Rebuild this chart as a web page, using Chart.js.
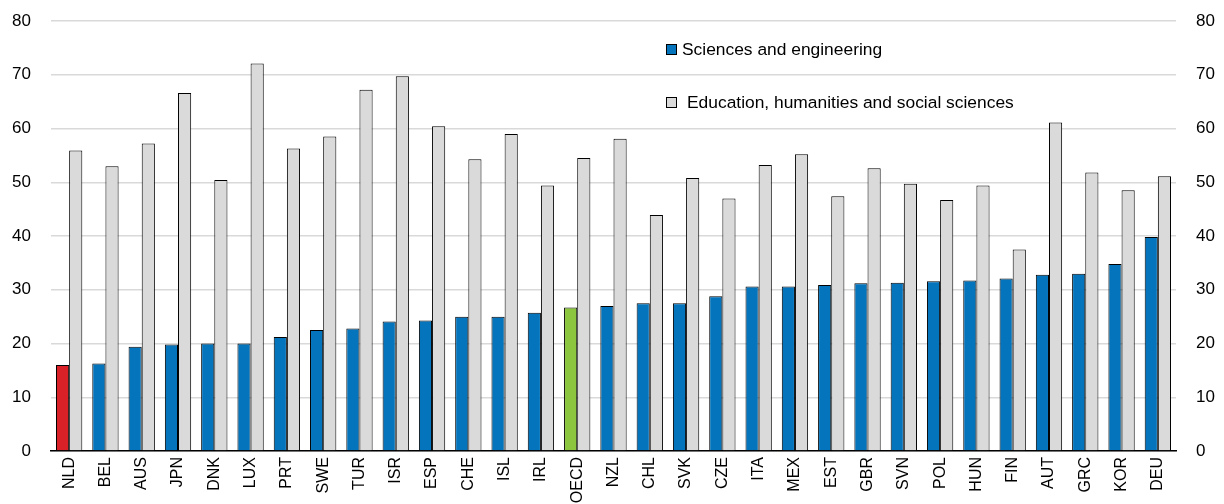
<!DOCTYPE html>
<html>
<head>
<meta charset="utf-8">
<script src="https://cdn.jsdelivr.net/npm/chart.js@4.4.1/dist/chart.umd.min.js"></script>
<style>
  html, body { margin: 0; padding: 0; background: #fff; }
  #wrap { width: 1224px; height: 504px; }
</style>
</head>
<body>
<div id="wrap"><canvas id="myChart" width="1224" height="504"></canvas></div>
<script>
// data
const countries = ['NLD','BEL','AUS','JPN','DNK','LUX','PRT','SWE','TUR','ISR','ESP','CHE','ISL','IRL','OECD',
                   'NZL','CHL','SVK','CZE','ITA','MEX','EST','GBR','SVN','POL','HUN','FIN','AUT','GRC','KOR','DEU'];
const sciences = [16, 16.3, 19.4, 19.8, 20, 20, 21.2, 22.5, 22.8, 24.1, 24.3, 25, 25, 25.7, 26.7,
                  27, 27.5, 27.5, 28.8, 30.6, 30.6, 30.9, 31.2, 31.3, 31.6, 31.7, 32.1, 32.8, 33, 34.8, 39.8];
const education = [55.9, 53, 57.2, 66.6, 50.4, 72.1, 56.3, 58.5, 67.2, 69.7, 60.4, 54.3, 59, 49.4, 54.5,
                   58.1, 43.9, 50.8, 47, 53.2, 55.2, 47.4, 52.6, 49.7, 46.7, 49.4, 37.5, 61.1, 51.8, 48.5, 51.1];
const seriesNames = ['Sciences and engineering', 'Education, humanities and social sciences'];
const yTicks = [0, 10, 20, 30, 40, 50, 60, 70, 80];

const BLUE = '#0474bd', GREY = '#dadada', RED = '#da2128', GREEN = '#8cc63f';
const FAMILY = 'Arial, "Liberation Sans", sans-serif';
const X_FONT = { family: FAMILY, size: 16 };
const Y_FONT = { family: FAMILY, size: 17 };

// colour of the highlighted bars
const sciColors = countries.map(c => c === 'NLD' ? RED : (c === 'OECD' ? GREEN : BLUE));

// legend drawn inside the plot, top right
const legendInside = {
    id: 'legendInside',
    afterDraw(chart) {
        const ctx = chart.ctx;
        const items = [
            { x: 666, y: 44, tx: 682, fill: BLUE, text: seriesNames[0] },
            { x: 666, y: 97, tx: 687, fill: GREY, text: seriesNames[1] }
        ];
        ctx.save();
        ctx.font = '17.4px ' + FAMILY;
        ctx.textBaseline = 'middle';
        items.forEach(it => {
            ctx.fillStyle = it.fill;
            ctx.fillRect(it.x, it.y, 11, 11);
            ctx.lineWidth = 1;
            ctx.strokeStyle = '#000';
            ctx.strokeRect(it.x + 0.5, it.y + 0.5, 10, 10);
            ctx.fillStyle = '#000';
            ctx.fillText(it.text, it.tx, it.y + 6);
        });
        ctx.restore();
    }
};

const yAxis = (pos) => ({
    position: pos,
    min: 0, max: 80,
    afterBuildTicks: ax => { ax.ticks = yTicks.map(v => ({ value: v })); },
    afterFit: ax => {
        ax.width = pos === 'left' ? 51 : 48;
        ax.paddingTop = 0;
        ax.paddingBottom = 0;
    },
    grid: { display: pos === 'left', color: '#d9d9d9', lineWidth: 1.5, drawTicks: false },
    border: { display: false },
    ticks: { color: '#000', font: Y_FONT, padding: 20 }
});

new Chart(document.getElementById('myChart'), {
    type: 'bar',
    data: {
        labels: countries,
        datasets: [
            { label: seriesNames[0], data: sciences, backgroundColor: sciColors,
              borderColor: '#000', borderWidth: 1, yAxisID: 'y' },
            { label: seriesNames[1], data: education, backgroundColor: GREY,
              borderColor: '#000', borderWidth: 1, yAxisID: 'y' }
        ]
    },
    options: {
        responsive: false,
        animation: false,
        layout: { padding: { top: 21, right: 0, left: 0, bottom: 0 } },
        plugins: { legend: { display: false }, tooltip: { enabled: false } },
        datasets: { bar: { categoryPercentage: 0.725, barPercentage: 1 } },
        scales: {
            x: {
                grid: { display: false, drawTicks: false },
                border: { display: true, color: '#000', width: 1.5 },
                afterFit: ax => { ax.height = 53; },
                ticks: { color: '#000', font: X_FONT, minRotation: 90, maxRotation: 90, autoSkip: false, padding: 6 }
            },
            y: yAxis('left'),
            y2: yAxis('right')
        }
    },
    plugins: [legendInside]
});
</script>
</body>
</html>
